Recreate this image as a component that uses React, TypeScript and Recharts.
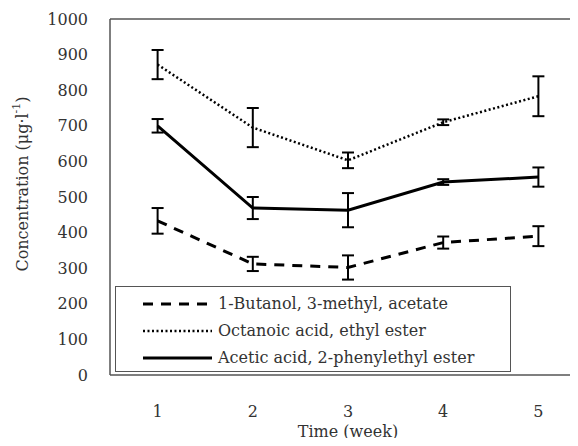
import React from "react";
import {
  LineChart,
  Line,
  XAxis,
  YAxis,
  ErrorBar,
  ReferenceLine,
  Legend,
} from "recharts";

const weeks = [1, 2, 3, 4, 5];
const butanol = [433, 312, 302, 372, 390];
const butanolErr = [36, 20, 34, 17, 28];
const octanoic = [872, 695, 603, 710, 783];
const octanoicErr = [41, 55, 22, 8, 56];
const acetic = [700, 469, 463, 542, 556];
const aceticErr = [19, 31, 48, 8, 27];
const yTicks = [0, 100, 200, 300, 400, 500, 600, 700, 800, 900, 1000];

const seriesNames = [
  "1-Butanol, 3-methyl, acetate",
  "Octanoic acid, ethyl ester",
  "Acetic acid, 2-phenylethyl ester",
];

const data = weeks.map((w, i) => ({
  week: w,
  butanol: butanol[i],
  butanolErr: butanolErr[i],
  octanoic: octanoic[i],
  octanoicErr: octanoicErr[i],
  acetic: acetic[i],
  aceticErr: aceticErr[i],
}));

const font = '"DejaVu Serif", serif';
const textColor = "#333";
const frame = "#555";

const styles = [
  { dash: "10 8", width: 3 },
  { dash: "2 2.5", width: 2.5 },
  { dash: undefined, width: 3 },
];

const tickStyle = { fill: textColor, fontFamily: font, fontSize: 16, style: { fontFamily: font } };

const renderLegend = () => (
  <div
    style={{
      width: 396,
      height: 86,
      border: "1.5px solid #555",
      boxSizing: "border-box",
      background: "#fff",
      fontFamily: font,
      fontSize: 16,
      color: textColor,
      paddingTop: 3,
    }}
  >
    {seriesNames.map((name, i) => (
      <div
        key={name}
        style={{ display: "flex", alignItems: "center", height: 27, whiteSpace: "nowrap" }}
      >
        <svg width={100} height={10} style={{ flex: "none" }}>
          <line
            x1={27}
            y1={5}
            x2={96}
            y2={5}
            stroke="#000"
            strokeWidth={styles[i].width}
            strokeDasharray={styles[i].dash}
          />
        </svg>
        <span style={{ marginLeft: 2, fontFamily: font }}>{name}</span>
      </div>
    ))}
  </div>
);

const YLabel = () => (
  <text
    x={22}
    y={184}
    transform="rotate(-90 22 184)"
    textAnchor="middle"
    dominantBaseline="central"
    fontFamily={font}
    fontSize={16}
    fill={textColor}
  >
    Concentration (μg·l
    <tspan dy={-6} fontSize={11}>-1</tspan>
    <tspan dy={6}>)</tspan>
  </text>
);

export default function App() {
  return (
    <div
      style={{
        margin: -8,
        width: 578,
        height: 446,
        overflow: "hidden",
        background: "#fff",
        fontFamily: font,
      }}
    >
      <LineChart
        width={600}
        height={446}
        data={data}
        margin={{ top: 19, right: 14, left: 0, bottom: 0 }}
        style={{ fontFamily: font }}
      >
        <XAxis
          dataKey="week"
          type="number"
          domain={[0.5, 5.5]}
          ticks={weeks}
          height={71}
          tickLine={false}
          tickSize={0}
          tickMargin={31}
          axisLine={{ stroke: frame, strokeWidth: 1.5 }}
          tick={tickStyle}
          label={{
            value: "Time (week)",
            position: "insideBottom",
            offset: 9,
            fill: textColor,
            fontFamily: font,
            fontSize: 16,
          }}
        />
        <YAxis
          domain={[0, 1000]}
          ticks={yTicks}
          width={110}
          tickLine={false}
          tickSize={0}
          tickMargin={22}
          interval={0}
          axisLine={{ stroke: frame, strokeWidth: 1.5 }}
          tick={tickStyle}
          label={{ content: () => <YLabel /> }}
        />
        <ReferenceLine y={1000} stroke={frame} strokeWidth={1.5} />
        <Line
          dataKey="butanol"
          stroke="#000"
          strokeWidth={3}
          strokeDasharray="10 8"
          dot={false}
          isAnimationActive={false}
        >
          <ErrorBar dataKey="butanolErr" direction="y" width={6} stroke="#000" strokeWidth={2} />
        </Line>
        <Line
          dataKey="octanoic"
          stroke="#000"
          strokeWidth={2.5}
          strokeDasharray="2 2.5"
          dot={false}
          isAnimationActive={false}
        >
          <ErrorBar dataKey="octanoicErr" direction="y" width={6} stroke="#000" strokeWidth={2} />
        </Line>
        <Line
          dataKey="acetic"
          stroke="#000"
          strokeWidth={3}
          dot={false}
          isAnimationActive={false}
        >
          <ErrorBar dataKey="aceticErr" direction="y" width={6} stroke="#000" strokeWidth={2} />
        </Line>
        <Legend
          layout="vertical"
          align="center"
          verticalAlign="middle"
          content={renderLegend}
          wrapperStyle={{ left: 115, top: 286, width: 396, height: 86 }}
        />
      </LineChart>
    </div>
  );
}
